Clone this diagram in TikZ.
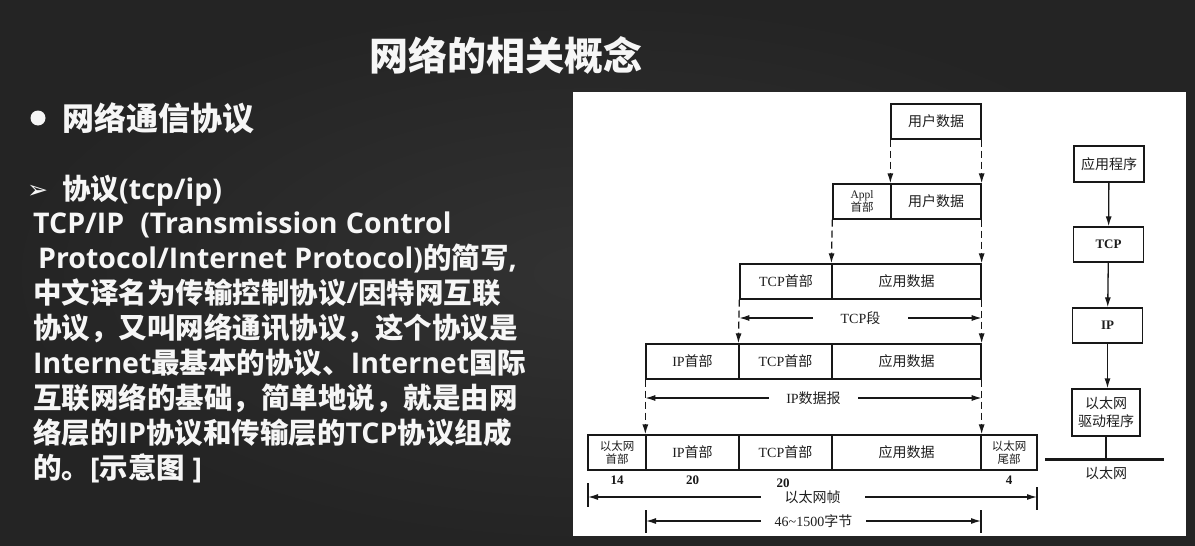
\documentclass[tikz,border=0pt]{standalone}
\usepackage{fontspec}
\usetikzlibrary{arrows.meta}
\newfontfamily\cjk{Noto Sans CJK SC}
\newfontfamily\lat{Open Sans}
\newfontfamily\tms{Liberation Serif}
\newfontfamily\djv{DejaVu Sans}
\newcommand\LA[1]{{\lat\bfseries #1}}
\newcommand\TM[1]{{\tms #1}}
\definecolor{boardin}{RGB}{50,50,50}
\definecolor{boardout}{RGB}{36,36,36}
\definecolor{chalk}{RGB}{246,246,246}
\definecolor{ink}{RGB}{24,24,24}
\definecolor{inktext}{RGB}{30,30,30}
\tikzset{
  slidetext/.style={anchor=base west, inner sep=0pt, text=chalk,
    font=\cjk\bfseries\fontsize{28.5}{30}\selectfont},
  cellbox/.style={draw=ink, line width=1.3pt, inner sep=0pt, text=inktext,
    align=center, font=\cjk\fontsize{14}{16}\selectfont},
  smallcell/.style={font=\cjk\fontsize{11.5}{12.5}\selectfont},
  dashedarrow/.style={draw=ink, line width=1.3pt, dash pattern=on 7pt off 4pt,
    -{Latex[length=10pt,width=6pt]}},
  dimline/.style={draw=ink, line width=1.2pt,
    {Latex[length=10pt,width=6pt]}-{Latex[length=10pt,width=6pt]}},
  dimtext/.style={fill=white, inner ysep=0pt, text=inktext,
    font=\cjk\fontsize{14}{16}\selectfont},
  tick/.style={draw=ink, line width=1.3pt},
  bytes/.style={inner sep=0pt, text=ink, font=\tms\bfseries\fontsize{13}{13}\selectfont},
  flowarrow/.style={draw=ink, line width=1.3pt, -{Latex[length=10pt,width=6pt]}}
}
\begin{document}
\begin{tikzpicture}[x=1pt,y=-1pt]
\useasboundingbox (0,0) rectangle (1195,546);
% chalkboard background
\shade[inner color=boardin, outer color=boardout] (0,0) rectangle (1195,546);

% slide title and text
\node[anchor=base, inner sep=0pt, text=chalk,
  font=\cjk\bfseries\fontsize{39}{40}\selectfont] (title) at (505.5,70) {网络的相关概念};
\node[circle, fill=chalk, minimum size=15pt, inner sep=0pt] (dot) at (38,118) {};
\node[slidetext, font=\cjk\bfseries\fontsize{32}{34}\selectfont] (head) at (62,130) {网络通信协议};
\node[anchor=base west, inner sep=0pt, text=chalk, font=\djv\bfseries\fontsize{25}{26}\selectfont] (mark) at (27,198) {➢};
\node[slidetext] (sub) at (62,199) {协议\LA{(tcp/ip)}};
\node[slidetext] (l1) at (33,233) {\LA{TCP/IP\hspace{16pt}(Transmission\hspace{1pt} Control}};
\node[slidetext] (l2) at (38,268) {\LA{Protocol/Internet Protocol)}的简写\LA{,}};
\node[slidetext] (l3) at (33,303) {中文译名为传输控制协议\LA{/}因特网互联};
\node[slidetext] (l4) at (33,338) {协议，又叫网络通讯协议，这个协议是};
\node[slidetext] (l5) at (33,373) {\LA{Internet}最基本的协议、\LA{Internet}国际};
\node[slidetext] (l6) at (33,408) {互联网络的基础，简单地说，就是由网};
\node[slidetext] (l7) at (33,443) {络层的\LA{IP}协议和传输层的\LA{TCP}协议组成};
\node[slidetext] (l8) at (33,478) {的。\LA{[}示意图\LA{\ ]}};

% white figure panel
\fill[white] (573,92) rectangle (1186,536);

% encapsulation rows
\node[cellbox, minimum width=90pt, minimum height=35pt] (u1) at (936,121.5) {用户数据};

\node[cellbox, smallcell, minimum width=58pt, minimum height=35pt] (a2) at (862,201.5) {\TM{Appl}\\首部};
\node[cellbox, minimum width=90pt, minimum height=35pt] (u2) at (936,201.5) {用户数据};

\node[cellbox, minimum width=92pt, minimum height=35pt] (t3) at (786,281.5) {\TM{TCP}首部};
\node[cellbox, minimum width=149pt, minimum height=35pt] (d3) at (906.5,281.5) {应用数据};

\node[cellbox, minimum width=93pt, minimum height=35pt] (i4) at (692.5,361.5) {\TM{IP}首部};
\node[cellbox, minimum width=93pt, minimum height=35pt] (t4) at (785.5,361.5) {\TM{TCP}首部};
\node[cellbox, minimum width=149pt, minimum height=35pt] (d4) at (906.5,361.5) {应用数据};

\node[cellbox, smallcell, minimum width=58pt, minimum height=35pt] (e5) at (617,452.5) {以太网\\首部};
\node[cellbox, minimum width=93pt, minimum height=35pt] (i5) at (692.5,452.5) {\TM{IP}首部};
\node[cellbox, minimum width=93pt, minimum height=35pt] (t5) at (785.5,452.5) {\TM{TCP}首部};
\node[cellbox, minimum width=149pt, minimum height=35pt] (d5) at (906.5,452.5) {应用数据};
\node[cellbox, smallcell, minimum width=56pt, minimum height=35pt] (r5) at (1009,452.5) {以太网\\尾部};

% dashed arrows between layers
\draw[dashedarrow] (u1.south west) -- (u2.north west);
\draw[dashedarrow] (u1.south east) -- (u2.north east);
\draw[dashedarrow] (a2.south west) -- (d3.north west);
\draw[dashedarrow] (u2.south east) -- (d3.north east);
\draw[dashedarrow] (t3.south west) -- (t4.north west);
\draw[dashedarrow] (d3.south east) -- (d4.north east);
\draw[dashedarrow] (i4.south west) -- (i5.north west);
\draw[dashedarrow] (d4.south east) -- (d5.north east);

% dimension lines
\coordinate (ytcp) at (0,318);
\coordinate (yip) at (0,398);
\coordinate (yeth) at (0,497);
\coordinate (ypay) at (0,521);
\draw[dimline] (t3.south west |- ytcp) -- (d3.south east |- ytcp)
  node[midway, dimtext, inner xsep=28pt] (ltcp) {\TM{TCP}段};
\draw[dimline] (i4.south west |- yip) -- (d4.south east |- yip)
  node[midway, dimtext, inner xsep=17pt] (lip) {\TM{IP}数据报};
\coordinate (et1) at (588,483);
\coordinate (et2) at (588,507);
\coordinate (et3) at (1037,487);
\coordinate (et4) at (1037,510);
\draw[tick] (et1) -- (et2);
\draw[tick] (et3) -- (et4);
\draw[dimline] (et1 |- yeth) -- (et3 |- yeth)
  node[midway, dimtext, inner xsep=24pt] (leth) {以太网帧};
\coordinate (pt1) at (646,510);
\coordinate (pt2) at (646,533);
\coordinate (pt3) at (981,510);
\coordinate (pt4) at (981,533);
\draw[tick] (pt1) -- (pt2);
\draw[tick] (pt3) -- (pt4);
\draw[dimline] (pt1 |- ypay) -- (pt3 |- ypay)
  node[midway, dimtext, inner xsep=14pt] (lpay) {\TM{46\textasciitilde1500}字节};

% header sizes in bytes
\node[bytes] (n14) at (617,480) {14};
\node[bytes] (n20a) at (692.5,480) {20};
\node[bytes] (n20b) at (783,483) {20};
\node[bytes] (n4) at (1009,480) {4};

% protocol stack
\node[cellbox, minimum width=70pt, minimum height=36pt] (app) at (1109,164) {应用程序};
\node[cellbox, minimum width=70pt, minimum height=35pt, font=\tms\bfseries\fontsize{13}{15}\selectfont] (tcp) at (1108.5,244.5) {TCP};
\node[cellbox, minimum width=70pt, minimum height=35pt, font=\tms\bfseries\fontsize{13}{15}\selectfont] (ip) at (1107.5,325.5) {IP};
\node[cellbox, minimum width=68pt, minimum height=47pt, font=\cjk\fontsize{14}{18}\selectfont] (drv) at (1106,412.5) {以太网\\驱动程序};
\draw[flowarrow] (app) -- (tcp);
\draw[flowarrow] (tcp) -- (ip);
\draw[flowarrow] (ip.south) -- (ip.south |- drv.north);
\coordinate (bus1) at (1045,459);
\coordinate (bus2) at (1164,459);
\draw[ink, line width=3pt] (bus1) -- (bus2);
\draw[ink, line width=1.3pt] (drv.south) -- (drv.south |- bus1);
\node[inner sep=0pt, text=inktext, font=\cjk\fontsize{14}{16}\selectfont] (busname) at (1106,473) {以太网};
\end{tikzpicture}
\end{document}
